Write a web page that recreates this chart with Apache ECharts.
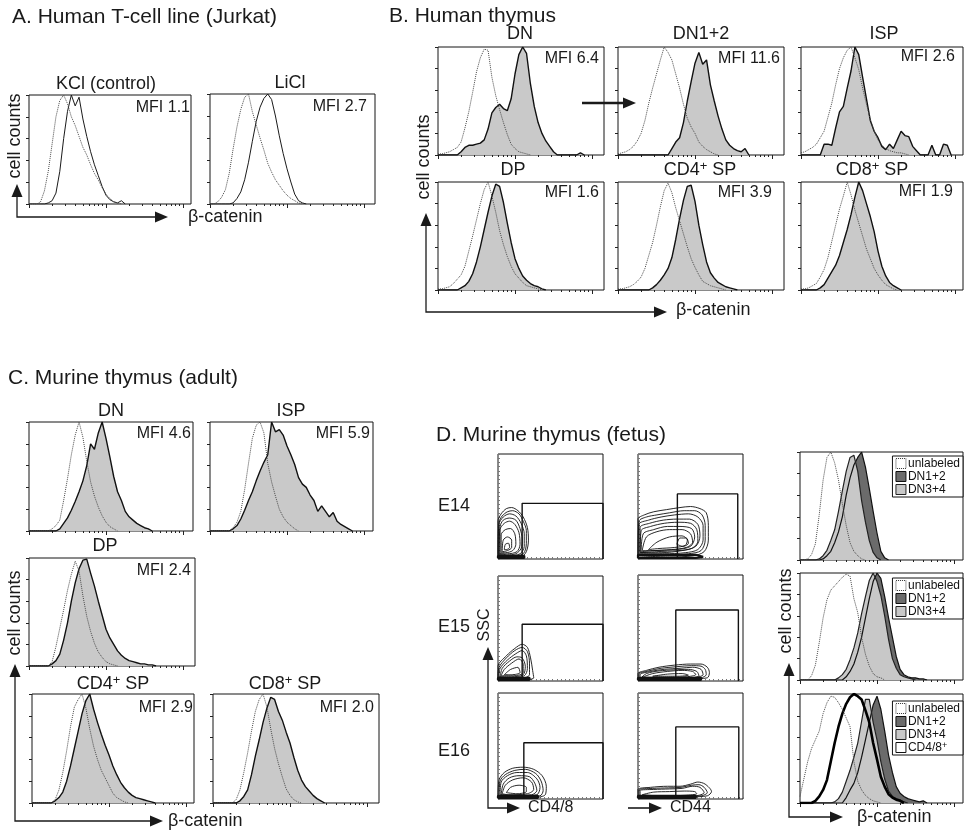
<!DOCTYPE html>
<html>
<head>
<meta charset="utf-8">
<script src="https://cdn.jsdelivr.net/npm/echarts@6/dist/echarts.min.js"></script>
<style>
  html, body { margin: 0; padding: 0; background: #fff; }
  #chart { width: 966px; height: 833px; }
</style>
</head>
<body>
<div id="chart"></div>
<script>
// Flow-cytometry β-catenin histograms (counts as % of mode) in 0.05-decade bins,
// each array starting at the origin of the log fluorescence axis.
const BIN = 0.05;

// A. Jurkat
const jurkatKClUnlabeled = [0,0,0,2,12,30,55,80,95,100,92,80,72,62,52,45,36,28,22,15,9,5,2,1,0];
const jurkatKClStained   = [0,0,0,0,0,1,3,10,30,60,85,100,90,98,78,62,48,36,26,16,8,4,2,1,3,0];
const jurkatLiClUnlabeled = [0,0,2,6,13,28,50,70,86,97,100,84,72,60,49,37,29,22,17,12,8,5,3,1,0];
const jurkatLiClStained   = [0,0,0,0,0,0,1,5,11,22,38,57,75,88,96,100,95,80,62,46,32,20,9,3,1,0];

// B. Human thymus
const huDNUnlabeled = [1,1,2,3,5,7,12,25,40,58,77,90,98,97,72,55,42,30,19,10,6,3,2,1,0];
const huDNStained   = [0,0,0,0,0,0,3,7,9,9,10,11,14,24,39,44,47,43,41,52,75,93,100,94,66,45,30,20,13,8,3,0,0,0,0,0,0,2,0];
const huDN12Unlabeled = [1,2,3,5,8,13,20,32,48,62,75,88,100,95,88,75,62,47,34,26,20,12,8,5,3,1,0];
const huDN12Stained   = [0,0,0,0,0,0,0,0,0,0,0,0,0,0,6,12,16,30,50,68,85,95,84,88,65,50,36,24,14,9,6,4,3,6,0];
const huISPUnlabeled = [2,3,5,7,10,16,22,35,48,65,80,90,97,100,90,79,62,47,33,22,14,9,6,4,3,2,2,1,0];
const huISPStained   = [0,0,0,0,0,0,10,10,9,25,40,45,62,78,100,93,72,52,32,22,16,8,5,10,6,14,22,18,17,8,4,0,0,0,9,0,0,10,9,0];
const huDPUnlabeled = [1,1,2,3,6,10,14,22,36,50,65,80,93,100,87,72,55,42,31,22,15,11,7,4,3,2,1,0];
const huDPStained   = [0,0,0,0,0,0,2,4,8,15,26,40,56,72,87,98,96,81,62,44,29,20,13,9,6,4,3,1,0];
const huCD4Unlabeled = [1,1,2,3,5,8,12,20,32,44,60,77,92,99,90,76,64,52,40,29,21,14,8,6,4,3,2,1,0];
const huCD4Stained   = [0,0,0,0,0,0,0,0,0,2,5,9,14,20,30,47,66,83,96,97,82,60,42,26,16,11,7,5,3,2,1,0];
const huCD8Unlabeled = [1,1,2,4,6,12,19,30,45,60,75,87,100,88,74,62,50,38,29,20,14,9,5,3,1,0];
const huCD8Stained   = [0,0,0,0,0,2,5,11,17,23,32,44,56,70,86,100,92,80,68,54,36,22,13,7,4,2,0];

// C. Murine thymus (adult)
const muDNUnlabeled = [0,0,0,0,0,0,2,5,10,28,48,70,88,100,86,64,45,32,22,14,8,4,2,0];
const muDNStained   = [0,0,0,0,0,0,0,0,2,7,12,19,27,36,46,60,80,75,90,100,85,68,50,36,28,18,13,10,7,5,3,2,0];
const muISPUnlabeled = [0,0,0,0,0,0,3,8,18,38,62,85,97,100,90,62,45,32,20,13,8,5,2,0];
const muISPStained   = [0,0,0,0,0,0,2,5,11,19,28,36,46,55,63,70,100,91,93,88,78,70,61,49,43,40,33,28,18,23,18,13,17,9,6,4,2,0];
const muDPUnlabeled = [0,0,0,0,0,0,4,18,35,52,70,85,97,88,65,46,32,21,13,8,4,2,1,0];
const muDPStained   = [0,0,0,0,0,0,2,5,11,24,40,60,77,90,98,99,86,74,60,47,34,26,20,14,10,7,5,4,3,2,2,1,1,0];
const muCD4Unlabeled = [0,0,0,0,0,0,3,12,28,48,70,88,95,100,87,68,52,40,30,23,16,9,5,3,1,0];
const muCD4Stained   = [0,0,0,0,0,0,2,5,10,20,34,50,66,82,94,100,86,74,63,53,44,34,26,19,14,10,7,5,4,3,2,1,0];
const muCD8Unlabeled = [0,0,0,0,0,0,3,12,28,46,66,84,95,100,88,68,50,36,24,13,7,3,1,0];
const muCD8Stained   = [0,0,0,0,0,0,0,2,6,12,26,43,58,74,87,97,95,84,76,65,55,42,30,21,15,11,7,4,2,0];

// D. Murine thymus (fetus), β-catenin per day
const e14Unlabeled = [0,0,1,5,15,42,74,95,100,90,74,52,32,16,8,4,1,0];
const e14DN12 = [0,0,0,0,0,0,1,4,8,16,26,40,60,76,88,95,100,86,66,45,25,8,2,0];
const e14DN34 = [0,0,0,0,0,1,4,9,18,28,45,64,82,95,97,82,55,35,18,7,2,0];
const e15Unlabeled = [0,0,0,4,14,35,58,75,84,88,92,96,99,97,76,63,40,24,13,6,3,2,0];
const e15DN12 = [0,0,0,0,0,0,0,0,0,0,0,0,3,8,15,26,40,58,76,92,100,95,78,58,40,22,10,5,3,2,2,1,1,0];
const e15DN34 = [0,0,0,0,0,0,0,0,0,0,2,5,10,19,30,44,62,78,93,100,92,79,60,38,20,11,5,3,2,1,0];
const e16Unlabeled = [6,22,38,50,58,66,82,92,98,97,92,86,78,70,38,20,12,7,4,2,1,0];
const e16DN12 = [0,0,0,0,0,0,0,0,0,0,0,0,5,12,18,28,42,58,74,90,98,86,66,44,28,15,9,6,4,3,2,1,2,0];
const e16DN34 = [0,0,0,0,0,0,0,0,0,1,4,10,20,30,42,55,75,95,95,74,58,38,22,11,6,4,3,1,0];
const e16CD48 = [0,0,0,0,2,6,12,21,38,55,70,82,91,97,100,98,95,85,74,55,40,24,15,8,5,3,2,0];

// Mean fluorescence intensities printed in the panels
const mfiJurkat = ['1.1', '2.7'];
const mfiHuman  = ['6.4', '11.6', '2.6', '1.6', '3.9', '1.9'];
const mfiMouse  = ['4.6', '5.9', '2.4', '2.9', '2.0'];

// Contour outlines (SSC vs marker, both 0–100 display units), outermost ring first,
// last entry is the dense band along the axis
const e14Cd48Rings = [
  [[0,3],[0,36],[3,43],[8,48],[13,49],[19,46],[24,40],[28,30],[29,18],[27,7],[22,2],[10,1.5],[0,3]],
  [[0,4],[1,35],[4,41],[9,45],[14,46],[20,43],[24,36],[27,27],[27,15],[24,5],[12,3],[0,4]],
  [[1,4],[1,33],[5,40],[11,43],[17,41],[22,34],[25,24],[25,12],[21,5],[10,3],[1,4]],
  [[1,5],[2,31],[5,37],[11,39],[17,37],[21,29],[23,19],[22,10],[17,5],[9,4],[1,5]],
  [[2,5],[2,28],[6,34],[11,36],[16,33],[20,25],[21,14],[18,7],[9,5],[2,5]],
  [[3,6],[3,23],[7,28],[12,29],[16,24],[17,14],[14,8],[7,6],[3,6]],
  [[4,7],[5,18],[9,21],[13,18],[13,11],[9,8],[4,7]],
  [[6,9],[7,14],[10,15],[11,11],[8,9],[6,9]],
  [[0,1],[0,3],[25,3],[25,1],[0,1]]
];
const e14Cd44Rings = [
  [[0,3],[0,38],[6,42],[15,45],[27,47],[40,49],[50,50],[59,48],[65,44],[67,32],[67,18],[63,7],[52,3],[30,2],[0,3]],
  [[0,4],[1,36],[8,40],[18,42],[30,44],[44,46],[54,46],[61,42],[64,32],[64,18],[60,8],[48,5],[28,4],[0,4]],
  [[1,5],[1,33],[10,37],[22,40],[35,42],[48,43],[57,40],[62,32],[62,18],[57,9],[45,6],[25,5],[1,5]],
  [[2,6],[2,30],[11,34],[24,37],[37,38],[49,38],[57,33],[59,22],[55,12],[42,8],[22,6],[2,6]],
  [[2,6],[3,27],[12,31],[25,34],[38,35],[50,34],[56,28],[57,17],[51,10],[38,8],[18,7],[2,6]],
  [[3,7],[5,24],[15,28],[28,31],[40,31],[51,29],[54,21],[50,12],[36,9],[15,8],[3,7]],
  [[4,8],[8,21],[18,26],[30,28],[42,28],[50,24],[52,16],[46,11],[32,9],[12,8],[4,8]],
  [[10,9],[18,16],[30,21],[42,22],[47,18],[45,13],[35,11],[20,10],[10,9]],
  [[37,14],[40,20],[46,20],[48,15],[43,12],[37,14]],
  [[0,1],[0,4],[55,4],[62,2],[55,1],[0,1]]
];
const e15Cd48Rings = [
  [[0,2],[0,14],[8,24],[16,31],[23,35],[28,32],[31,22],[33,10],[34,3],[20,1],[0,2]],
  [[0,3],[1,13],[8,22],[16,29],[23,32],[28,28],[30,17],[30,6],[18,2],[0,3]],
  [[1,4],[2,12],[9,20],[17,26],[23,29],[27,24],[28,12],[25,5],[12,3],[1,4]],
  [[2,4],[4,12],[11,19],[18,23],[23,22],[26,14],[24,6],[13,4],[2,4]],
  [[3,5],[6,11],[13,17],[20,21],[24,16],[24,8],[15,5],[3,5]],
  [[6,6],[12,11],[19,13],[21,8],[13,6],[6,6]],
  [[0,1],[0,3],[30,3],[30,1],[0,1]]
];
const e15Cd44Rings = [
  [[0,2],[0,7],[8,10],[20,13],[35,15],[50,16],[60,16],[66,13],[68,8],[66,3],[50,2],[25,1.5],[0,2]],
  [[1,2.5],[1,6.5],[10,9.5],[22,12],[37,13.5],[51,14.5],[60,14],[64,11],[65,6],[60,3],[40,2],[1,2.5]],
  [[2,3],[2,6],[12,9],[25,11],[40,12],[52,13],[60,11],[62,6],[52,3],[25,2.5],[2,3]],
  [[3,3],[8,7],[20,9.5],[34,10.5],[48,11],[56,9],[58,5],[48,3],[20,3],[3,3]],
  [[4,3.5],[14,7],[28,9],[42,10],[52,9],[55,6],[46,4],[25,3.5],[4,3.5]],
  [[14,4.5],[28,6.5],[42,7],[48,5.5],[38,4.5],[14,4.5]],
  [[0,1],[0,3],[60,3],[60,1],[0,1]]
];
const e16Cd48Rings = [
  [[0,2],[1,18],[6,25],[14,29],[24,30],[34,28],[42,22],[46,12],[45,4],[35,1.5],[10,1.5],[0,2]],
  [[1,3],[2,17],[7,23],[16,27],[26,28],[36,24],[41,17],[43,8],[40,3],[20,2],[1,3]],
  [[2,4],[3,16],[9,22],[18,25],[28,25],[37,19],[40,11],[37,4],[20,3],[2,4]],
  [[3,4],[5,14],[11,20],[20,22],[30,21],[35,15],[37,8],[32,4],[15,3.5],[3,4]],
  [[4,5],[7,13],[14,18],[24,20],[32,16],[34,9],[28,5],[10,4],[4,5]],
  [[8,6],[12,11],[20,13],[27,11],[27,7],[18,5],[8,6]],
  [[0,1],[0,3],[38,3],[38,1],[0,1]]
];
const e16Cd44Rings = [
  [[0,2],[0,9],[12,11],[28,12],[40,12],[50,14],[57,16],[64,14],[70,7],[66,3],[50,2],[25,1.5],[0,2]],
  [[1,2.5],[1,8.5],[14,10],[29,10.5],[41,11],[51,13],[58,13.5],[63,11],[66,6],[60,3],[30,2],[1,2.5]],
  [[2,3],[2,8],[15,9],[30,9.5],[42,10],[52,12],[59,11],[63,6],[55,3],[30,2.5],[2,3]],
  [[4,4],[15,6.5],[30,7],[44,7.5],[54,7],[56,5],[45,3.5],[20,3],[4,4]],
  [[0,1],[0,3],[55,3],[55,1],[0,1]]
];

// Sorting gates: [x start, x end, SSC top], bottom edge on the axis
const gateCd48 = { E14: [23, 100, 53], E15: [23, 100, 54], E16: [24.6, 100, 53] };
const gateCd44 = { E14: [37.5, 95, 62], E15: [36, 95.6, 67], E16: [36, 96, 68] };

// ---------------------------------------------------------------------------
const FONT = '"Liberation Sans", Arial, Helvetica, sans-serif';
const PX_PER_DECADE = 77;
const MAJOR_TICKS = [0, 1, 2];
const MINOR_TICKS = [];
for (let d = 0; d < 3; d++) for (let k = 2; k <= 9; k++) MINOR_TICKS.push(d + Math.log10(k));

const grids = [], xAxes = [], yAxes = [], series = [];

const STYLES = {
  dotted: { lineStyle: { color: '#4a4a4a', width: 1, type: 'dotted' } },
  line:   { lineStyle: { color: '#1a1a1a', width: 1 } },
  filled: { lineStyle: { color: '#111', width: 1.4 }, areaStyle: { color: '#c9c9c9', opacity: 1 } },
  dark:   { lineStyle: { color: '#111', width: 1.2 }, areaStyle: { color: '#6b6b6b', opacity: 1 }, itemStyle: { color: '#6b6b6b' } },
  light:  { lineStyle: { color: '#222', width: 1.2 }, areaStyle: { color: '#c8c8c8', opacity: 1 }, itemStyle: { color: '#c8c8c8' } },
  thick:  { lineStyle: { color: '#000', width: 2.6 }, itemStyle: { color: '#fff' } }
};

function addGrid(box, visible) {
  const [left, top, width, height] = box;
  grids.push(visible === false
    ? { left, top, width, height, show: false }
    : { left, top, width, height, show: true, borderColor: '#151515', borderWidth: 1, backgroundColor: '#fff' });
  return grids.length - 1;
}

function tickAxis(gi, max, ticks, len) {
  return {
    gridIndex: gi, type: 'value', position: 'bottom', min: 0, max,
    axisLine: { show: false }, axisLabel: { show: false }, splitLine: { show: false },
    axisTick: { show: true, inside: false, length: len, customValues: ticks.filter(v => v <= max + 1e-9), lineStyle: { color: '#222', width: 1 } }
  };
}

function addHistPanel(box, curves) {
  const gi = addGrid(box);
  const xMax = box[2] / PX_PER_DECADE;
  const xi = xAxes.length;
  xAxes.push(tickAxis(gi, xMax, MINOR_TICKS, 2));
  // decade ticks sit on an overlaid, invisible grid so they stay on the bottom edge
  const gMajor = addGrid(box, false);
  xAxes.push(tickAxis(gMajor, xMax, MAJOR_TICKS, 4));
  yAxes.push({ gridIndex: gMajor, type: 'value', show: false, min: 0, max: 100 });
  const yi = yAxes.length;
  yAxes.push({
    gridIndex: gi, type: 'value', position: 'left', min: 0, max: 100, interval: 20,
    axisLine: { show: false }, axisLabel: { show: false }, splitLine: { show: false },
    axisTick: { show: true, inside: false, length: 3, lineStyle: { color: '#222' } }
  });
  curves.forEach(([values, kind, name]) => {
    const s = Object.assign({
      type: 'line', xAxisIndex: xi, yAxisIndex: yi, symbol: 'none', silent: true,
      data: values.map((v, i) => [+(i * BIN).toFixed(2), v])
    }, JSON.parse(JSON.stringify(STYLES[kind])));
    if (name) s.name = name;
    series.push(s);
  });
}

function addContourPanel(box, rings, gate) {
  const gi = addGrid(box);
  const xi = xAxes.length, yi = yAxes.length;
  xAxes.push({
    gridIndex: gi, type: 'value', position: 'bottom', min: 0, max: 100, interval: 4,
    axisLine: { show: false }, axisLabel: { show: false }, splitLine: { show: false },
    axisTick: { show: true, inside: true, length: 2, lineStyle: { color: '#777' } }
  });
  yAxes.push({
    gridIndex: gi, type: 'value', position: 'left', min: 0, max: 100, interval: 4,
    axisLine: { show: false }, axisLabel: { show: false }, splitLine: { show: false },
    axisTick: { show: true, inside: true, length: 2, lineStyle: { color: '#777' } }
  });
  rings.forEach((ring, k) => {
    const isBand = k === rings.length - 1;
    series.push({
      type: 'line', xAxisIndex: xi, yAxisIndex: yi, symbol: 'none', silent: true,
      smooth: isBand ? false : 0.3, data: ring,
      lineStyle: { color: '#111', width: isBand ? 2.2 : 0.9 }
    });
  });
  const [x0, x1, yTop] = gate;
  series.push({
    type: 'line', xAxisIndex: xi, yAxisIndex: yi, symbol: 'none', silent: true,
    data: [[x0, 0], [x0, yTop], [x1, yTop], [x1, 0]],
    lineStyle: { color: '#111', width: 1.4 }
  });
}

// A
addHistPanel([29, 95, 162, 109], [[jurkatKClStained, 'line'], [jurkatKClUnlabeled, 'dotted']]);
addHistPanel([210, 94, 165, 110], [[jurkatLiClStained, 'line'], [jurkatLiClUnlabeled, 'dotted']]);
// B
addHistPanel([438, 47, 166, 108], [[huDNStained, 'filled'], [huDNUnlabeled, 'dotted']]);
addHistPanel([618, 47, 166, 108], [[huDN12Stained, 'filled'], [huDN12Unlabeled, 'dotted']]);
addHistPanel([801, 47, 162, 108], [[huISPStained, 'filled'], [huISPUnlabeled, 'dotted']]);
addHistPanel([438, 182, 166, 108], [[huDPStained, 'filled'], [huDPUnlabeled, 'dotted']]);
addHistPanel([618, 182, 166, 108], [[huCD4Stained, 'filled'], [huCD4Unlabeled, 'dotted']]);
addHistPanel([801, 182, 162, 108], [[huCD8Stained, 'filled'], [huCD8Unlabeled, 'dotted']]);
// C
addHistPanel([29, 422, 164, 109], [[muDNStained, 'filled'], [muDNUnlabeled, 'dotted']]);
addHistPanel([210, 422, 163, 109], [[muISPStained, 'filled'], [muISPUnlabeled, 'dotted']]);
addHistPanel([29, 558, 166, 108], [[muDPStained, 'filled'], [muDPUnlabeled, 'dotted']]);
addHistPanel([32, 694, 162, 109], [[muCD4Stained, 'filled'], [muCD4Unlabeled, 'dotted']]);
addHistPanel([213, 694, 166, 109], [[muCD8Stained, 'filled'], [muCD8Unlabeled, 'dotted']]);
// D contours
addContourPanel([498, 454, 105, 105], e14Cd48Rings, gateCd48.E14);
addContourPanel([638, 454, 105, 105], e14Cd44Rings, gateCd44.E14);
addContourPanel([498, 576, 105, 105], e15Cd48Rings, gateCd48.E15);
addContourPanel([638, 575, 105, 106], e15Cd44Rings, gateCd44.E15);
addContourPanel([498, 693, 105, 106], e16Cd48Rings, gateCd48.E16);
addContourPanel([638, 693, 105, 106], e16Cd44Rings, gateCd44.E16);
// D histograms
addHistPanel([800, 452, 163, 108], [[e14DN12, 'dark', 'DN1+2'], [e14DN34, 'light', 'DN3+4'], [e14Unlabeled, 'dotted', 'unlabeled']]);
addHistPanel([800, 573, 163, 107], [[e15DN12, 'dark', 'DN1+2'], [e15DN34, 'light', 'DN3+4'], [e15Unlabeled, 'dotted', 'unlabeled']]);
addHistPanel([800, 694, 163, 109], [[e16DN12, 'dark', 'DN1+2'], [e16DN34, 'light', 'DN3+4'], [e16CD48, 'thick', 'CD4/8+'], [e16Unlabeled, 'dotted', 'unlabeled']]);

// legends of the fetal histograms
const swatch = {
  'unlabeled': { color: '#fff', borderColor: '#333', borderWidth: 1, borderType: 'dotted' },
  'DN1+2': { color: '#6b6b6b', borderColor: '#111', borderWidth: 1 },
  'DN3+4': { color: '#c8c8c8', borderColor: '#222', borderWidth: 1 },
  'CD4/8+': { color: '#fff', borderColor: '#111', borderWidth: 1 }
};
function legendBox(top, names) {
  return {
    orient: 'vertical', right: 3, top, icon: 'rect', itemWidth: 10, itemHeight: 10, itemGap: 0,
    padding: [1, 3, 1, 3], borderColor: '#111', borderWidth: 1, backgroundColor: '#fff',
    selectedMode: false, z: 10,
    data: names.map(n => ({ name: n, itemStyle: swatch[n] })),
    formatter: n => n === 'CD4/8+' ? 'CD4/8{s|+}' : n,
    textStyle: { fontFamily: FONT, fontSize: 12, color: '#111', lineHeight: 13, padding: [0, 0, 0, -3],
      rich: { s: { fontSize: 9, lineHeight: 8, verticalAlign: 'top', fontFamily: FONT, color: '#111' } } }
  };
}
const legends = [
  legendBox(456, ['unlabeled', 'DN1+2', 'DN3+4']),
  legendBox(578, ['unlabeled', 'DN1+2', 'DN3+4']),
  legendBox(701, ['unlabeled', 'DN1+2', 'DN3+4', 'CD4/8+'])
];

// ---------------------------------------------------------------------------
// Text and arrow annotations
const graphics = [];
function text(x, y, str, size, align, extra) {
  graphics.push({
    type: 'text', x, y, z: 100, silent: true,
    style: Object.assign({
      text: str, fontFamily: FONT, fontSize: size, fill: '#1a1a1a',
      align: align || 'left', verticalAlign: 'middle', textAlign: align || 'left', textVerticalAlign: 'middle'
    }, extra || {})
  });
}
function supLabel(x, y, base, rest) {
  text(x, y, '{t|' + base + '}{s|+}{t|' + rest + '}', 18, 'center', {
    rich: {
      t: { fontFamily: FONT, fontSize: 18, lineHeight: 20, fill: '#1a1a1a', color: '#1a1a1a' },
      s: { fontFamily: FONT, fontSize: 13, lineHeight: 10, verticalAlign: 'top', fill: '#1a1a1a', color: '#1a1a1a' }
    }
  });
}
function vtext(x, y, str, size) {
  graphics.push({
    type: 'text', x, y, rotation: Math.PI / 2, z: 100, silent: true,
    style: { text: str, fontFamily: FONT, fontSize: size, fill: '#1a1a1a', align: 'center', verticalAlign: 'middle', textAlign: 'center', textVerticalAlign: 'middle' }
  });
}
function poly(points, width) {
  graphics.push({ type: 'polyline', z: 100, silent: true, shape: { points }, style: { stroke: '#1a1a1a', lineWidth: width || 1.3, fill: null } });
}
function head(tip, dir) {
  const [x, y] = tip, L = 13, H = 5.5;
  const pts = dir === 'up' ? [[x, y], [x - H, y + L], [x + H, y + L]] : [[x, y], [x - L, y - H], [x - L, y + H]];
  graphics.push({ type: 'polygon', z: 100, silent: true, shape: { points: pts }, style: { fill: '#1a1a1a' } });
}
function axisArrows(x, tipY, baseY, tipX) {
  poly([[x, tipY + 12], [x, baseY], [tipX - 12, baseY]]);
  head([x, tipY], 'up');
  head([tipX, baseY], 'right');
}

// titles
text(12, 17, 'A. Human T-cell line (Jurkat)', 21);
text(389, 16, 'B. Human thymus', 21);
text(8, 378, 'C. Murine thymus (adult)', 21);
text(436, 435, 'D. Murine thymus (fetus)', 21);

// panel names
text(106, 84, 'KCl (control)', 18, 'center');
text(290, 83, 'LiCl', 18, 'center');
text(520, 34, 'DN', 18, 'center');
text(701, 34, 'DN1+2', 18, 'center');
text(884, 34, 'ISP', 18, 'center');
text(513, 170, 'DP', 18, 'center');
supLabel(700, 170, 'CD4', ' SP');
supLabel(872, 170, 'CD8', ' SP');
text(111, 411, 'DN', 18, 'center');
text(291, 411, 'ISP', 18, 'center');
text(105, 546, 'DP', 18, 'center');
supLabel(113, 684, 'CD4', ' SP');
supLabel(285, 684, 'CD8', ' SP');

// MFI values
[[190, 108], [367, 107]].forEach(([x, y], i) => text(x, y, 'MFI ' + mfiJurkat[i], 16, 'right'));
[[599, 59], [780, 59], [955, 57], [599, 193], [772, 193], [953, 192]].forEach(([x, y], i) => text(x, y, 'MFI ' + mfiHuman[i], 16, 'right'));
[[191, 434], [370, 434], [191, 571], [193, 708], [374, 708]].forEach(([x, y], i) => text(x, y, 'MFI ' + mfiMouse[i], 16, 'right'));

// axis captions
vtext(15, 136, 'cell counts', 18);
vtext(424, 157, 'cell counts', 18);
vtext(15, 613, 'cell counts', 18);
vtext(786, 611, 'cell counts', 18);
text(188, 217, 'β-catenin', 18);
text(676, 310, 'β-catenin', 18);
text(168, 821, 'β-catenin', 18);
text(857, 817, 'β-catenin', 18);
axisArrows(17, 184, 217, 168);
axisArrows(426, 213, 312, 667);
axisArrows(15, 664, 821, 163);
axisArrows(789, 663, 817, 843);

// fetal contour captions
text(438, 506, 'E14', 18);
text(438, 627, 'E15', 18);
text(438, 751, 'E16', 18);
vtext(485, 625, 'SSC', 16);
axisArrows(488, 647, 808, 520);
text(528, 808, 'CD4/8', 16);
poly([[628, 808], [651, 808]], 1.6);
head([662, 808], 'right');
text(670, 808, 'CD44', 16);

// DN → DN1+2 pointer
poly([[582, 103], [623, 103]], 2.5);
head([636, 103], 'right');

// ---------------------------------------------------------------------------
const chart = echarts.init(document.getElementById('chart'), null, { renderer: 'canvas' });
chart.setOption({
  animation: false,
  backgroundColor: '#fff',
  grid: grids,
  xAxis: xAxes,
  yAxis: yAxes,
  legend: legends,
  series,
  graphic: { elements: graphics }
});
</script>
</body>
</html>
